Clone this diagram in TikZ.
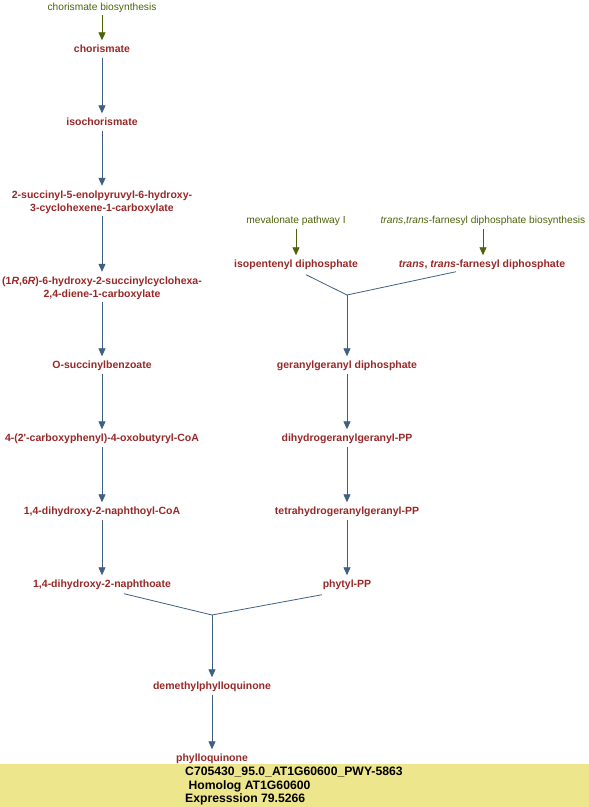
\documentclass[tikz,border=0pt]{standalone}
\usepackage{fontspec}
\setmainfont{Liberation Sans}
\usetikzlibrary{arrows.meta}
\definecolor{metred}{RGB}{153,40,40}
\definecolor{linkgreen}{RGB}{75,100,10}
\definecolor{arrowblue}{RGB}{63,96,128}
\definecolor{bandyellow}{RGB}{238,230,140}
\begin{document}
\begin{tikzpicture}[x=1pt,y=-1pt,
  metbase/.style={font=\fontsize{10.5}{13}\selectfont\bfseries, text=metred, inner sep=3pt, align=center},
  met/.style={metbase, text height=9pt, text depth=2pt},
  mettwo/.style={metbase, text height=22pt, text depth=2pt},
  pwlink/.style={font=\fontsize{10.2}{13}\selectfont, text=linkgreen, inner sep=3pt, text height=9pt, text depth=2pt},
  conn/.style={draw=arrowblue, line width=0.8pt, -{Triangle[width=7pt,length=8pt]}},
  gconn/.style={draw=linkgreen, line width=0.8pt, -{Triangle[width=7pt,length=8pt]}},
  plain/.style={draw=arrowblue, line width=0.8pt},
  bandtext/.style={font=\fontsize{12.2}{13.5}\selectfont\bfseries, text=black, inner sep=0pt, anchor=west, text height=9pt, text depth=2.5pt}
]
\useasboundingbox (0,0) rectangle (589,807);
\fill[bandyellow] (0,764) rectangle (589,807);

% left column
\node[pwlink] (chbio) at (102,6.5) {chorismate biosynthesis};
\node[met] (chor) at (102,49) {chorismate};
\node[met] (iso) at (102,122) {isochorismate};
\node[mettwo] (sephc) at (102,201) {2-succinyl-5-enolpyruvyl-6-hydroxy-\\3-cyclohexene-1-carboxylate};
\node[mettwo] (shchc) at (102,287) {(1\textit{R},6\textit{R})-6-hydroxy-2-succinylcyclohexa-\\2,4-diene-1-carboxylate};
\node[met] (osb) at (102,365) {O-succinylbenzoate};
\node[met] (osbcoa) at (102,438) {4-(2\textquotesingle-carboxyphenyl)-4-oxobutyryl-CoA};
\node[met] (dhnacoa) at (102,511) {1,4-dihydroxy-2-naphthoyl-CoA};
\node[met] (dhna) at (102,584) {1,4-dihydroxy-2-naphthoate};

% right column
\node[pwlink] (meva) at (296,220) {mevalonate pathway I};
\node[pwlink] (fppbio) at (483,220) {\textit{trans},\textit{trans}-farnesyl diphosphate biosynthesis};
\node[met] (ipp) at (296,264) {isopentenyl diphosphate};
\node[met] (fpp) at (482,264) {\textit{trans}, \textit{trans}-farnesyl diphosphate};
\coordinate (j1) at (347,295);
\node[met] (ggpp) at (347,365) {geranylgeranyl diphosphate};
\node[met] (dhgg) at (347,438) {dihydrogeranylgeranyl-PP};
\node[met] (thgg) at (347,511) {tetrahydrogeranylgeranyl-PP};
\node[met] (phyt) at (347,584) {phytyl-PP};

% bottom
\coordinate (j2) at (212,615);
\node[met] (dmpq) at (212,686) {demethylphylloquinone};
\node[met] (pq) at (212,758) {phylloquinone};

% band text
\node[bandtext] (l1) at (185,772.5) {C705430\_95.0\_AT1G60600\_PWY-5863};
\node[bandtext] (l2) at (185,786) {\ Homolog AT1G60600};
\node[bandtext] (l3) at (185,799.5) {Expresssion 79.5266};

% connectors
\draw[gconn] (chbio) -- (chor);
\draw[conn] (chor) -- (iso);
\draw[conn] (iso) -- (sephc);
\draw[conn] (sephc) -- (shchc);
\draw[conn] (shchc) -- (osb);
\draw[conn] (osb) -- (osbcoa);
\draw[conn] (osbcoa) -- (dhnacoa);
\draw[conn] (dhnacoa) -- (dhna);

\draw[gconn] (meva) -- (ipp);
\draw[gconn] (fppbio.south -| fpp.north) ++(1,0) coordinate (fa) -- (fa |- fpp.north);
\draw[plain] ([xshift=10pt,yshift=-2pt]ipp.south) -- (j1);
\draw[plain] ([xshift=-26pt,yshift=1pt]fpp.south) -- (j1);
\draw[conn] (j1) -- (ggpp);
\draw[conn] (ggpp) -- (dhgg);
\draw[conn] (dhgg) -- (thgg);
\draw[conn] (thgg) -- (phyt);

\draw[plain] ([xshift=22pt,yshift=-1pt]dhna.south) -- (j2);
\draw[plain] ([xshift=-25pt,yshift=-2pt]phyt.south) -- (j2);
\draw[conn] (j2) -- (dmpq);
\draw[conn] (dmpq) -- (pq);
\end{tikzpicture}
\end{document}
